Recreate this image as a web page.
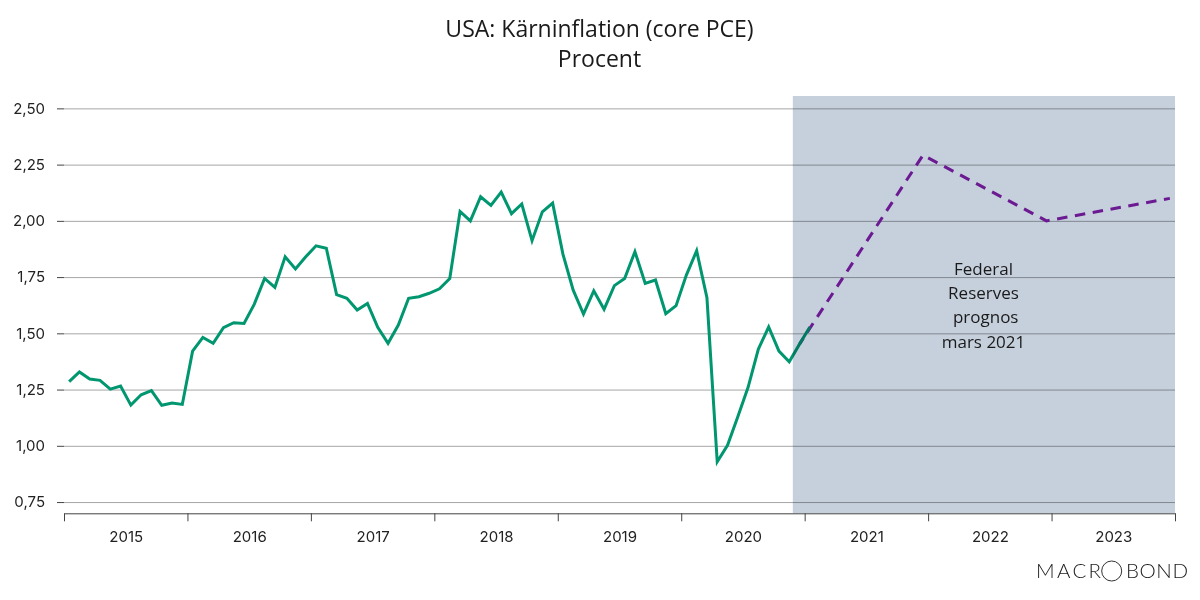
<!DOCTYPE html>
<html>
<head>
<meta charset="utf-8">
<script src="https://cdn.jsdelivr.net/npm/d3@7"></script>
<style>
  html, body { margin: 0; padding: 0; background: #fff; }
  svg { display: block; }
  text { font-family: 'Open Sans', sans-serif; fill: #1a1a1a; }
  .axis text { font-family: Inter, sans-serif; font-size: 15px; fill: #222; }
  .axis line, .axis path { stroke: #444; }
</style>
</head>
<body>
<div id="chart"></div>
<script>
const titleLines = ['USA: Kärninflation (core PCE)', 'Procent']
const noteLines = ['Federal', 'Reserves', ' prognos', 'mars 2021']
const years = [2015, 2016, 2017, 2018, 2019, 2020, 2021, 2022, 2023]
const yTicks = [0.75, 1, 1.25, 1.5, 1.75, 2, 2.25, 2.5]

// monthly values, january 2015 to january 2021
const actual = [
  1.285, 1.328, 1.297, 1.291, 1.252, 1.266, 1.181, 1.227, 1.245, 1.18, 1.19, 1.184,
  1.421, 1.482, 1.456, 1.525, 1.547, 1.544, 1.63, 1.744, 1.704, 1.84, 1.786, 1.84,
  1.889, 1.878, 1.672, 1.656, 1.604, 1.633, 1.527, 1.456, 1.537, 1.656, 1.663, 1.678,
  1.698, 1.744, 2.042, 2.0, 2.107, 2.069, 2.128, 2.032, 2.075, 1.912, 2.04, 2.079,
  1.852, 1.692, 1.586, 1.689, 1.607, 1.712, 1.744, 1.863, 1.722, 1.737, 1.587, 1.623,
  1.759, 1.867, 1.658, 0.929, 1.002, 1.129, 1.26, 1.43, 1.528, 1.421, 1.374, 1.452,
  1.528
]

// fed forecast, month counted from january 2015
const forecastMonths = [71, 83, 95, 107]
const forecastValues = [1.452, 2.292, 2.0, 2.1]
const shadeStart = 70.85

const width = 1200
const height = 600
const margin = { top: 96, right: 25, bottom: 86.7, left: 64 }

const svg = d3
  .select('#chart')
  .append('svg')
  .attr('width', width)
  .attr('height', height)

// x is in months, a point sits in the middle of its month
const xPositionScale = d3
  .scaleLinear()
  .domain([0, 108])
  .range([margin.left, width - margin.right])

const yPositionScale = d3
  .scaleLinear()
  .domain([0.7, 2.555])
  .range([height - margin.bottom, margin.top])

const line = d3
  .line()
  .x(d => xPositionScale(d.month + 0.5))
  .y(d => yPositionScale(d.value))

const comma = d3.formatLocale({ decimal: ',', thousands: ' ', grouping: [3], currency: ['', ''] }).format('.2f')

// gridlines
svg
  .append('g')
  .attr('transform', 'translate(' + margin.left + ',0)')
  .call(
    d3
      .axisLeft(yPositionScale)
      .tickValues(yTicks)
      .tickSize(-(width - margin.left - margin.right))
      .tickFormat('')
  )
  .call(g => g.select('.domain').remove())
  .selectAll('line')
  .attr('stroke', '#a6a6a6')

// forecast goes under the green line
svg
  .append('path')
  .datum(forecastMonths.map((d, i) => ({ month: d, value: forecastValues[i] })))
  .attr('d', line)
  .attr('fill', 'none')
  .attr('stroke', '#8a1fa8')
  .attr('stroke-width', 3)
  .attr('stroke-dasharray', '10.5 7.6')
  .attr('stroke-dashoffset', 3.7)

svg
  .append('path')
  .datum(actual.map((d, i) => ({ month: i, value: d })))
  .attr('d', line)
  .attr('fill', 'none')
  .attr('stroke', '#00966f')
  .attr('stroke-width', 3)
  .attr('stroke-linejoin', 'miter')

// the shade lies over the lines and darkens them
svg
  .append('rect')
  .attr('x', xPositionScale(shadeStart))
  .attr('y', margin.top)
  .attr('width', xPositionScale(108) - xPositionScale(shadeStart))
  .attr('height', height - margin.bottom - margin.top)
  .attr('fill', '#c6d0dd')
  .style('mix-blend-mode', 'multiply')

// y axis
svg
  .append('g')
  .attr('class', 'axis')
  .attr('transform', 'translate(' + margin.left + ',0)')
  .call(
    d3
      .axisLeft(yPositionScale)
      .tickValues(yTicks)
      .tickSize(7)
      .tickPadding(12)
      .tickFormat(comma)
  )
  .call(g => g.select('.domain').remove())

// x axis, ticks on year boundaries
svg
  .append('g')
  .attr('class', 'axis')
  .attr('transform', 'translate(0,' + (height - margin.bottom) + ')')
  .call(
    d3
      .axisBottom(xPositionScale)
      .tickValues(d3.range(0, 109, 12))
      .tickSize(8)
      .tickSizeOuter(0)
      .tickFormat('')
  )

// year labels in the middle of each year
svg
  .append('g')
  .attr('class', 'axis')
  .attr('transform', 'translate(0,' + (height - margin.bottom) + ')')
  .call(
    d3
      .axisBottom(xPositionScale)
      .tickValues(years.map((d, i) => i * 12 + 6))
      .tickSize(0)
      .tickPadding(18)
      .tickFormat((d, i) => years[i])
  )
  .call(g => g.select('.domain').remove())

svg
  .selectAll('.title')
  .data(titleLines)
  .enter()
  .append('text')
  .attr('class', 'title')
  .text(d => d)
  .attr('text-anchor', 'middle')
  .attr('font-size', 23)
  .attr('x', 599.5)
  .attr('y', (d, i) => 37 + i * 30)

svg
  .selectAll('.note')
  .data(noteLines)
  .enter()
  .append('text')
  .attr('class', 'note')
  .text(d => d)
  .attr('xml:space', 'preserve')
  .attr('text-anchor', 'middle')
  .attr('font-size', 17)
  .attr('x', 983.5)
  .attr('y', (d, i) => 275 + i * 24.2)

// logo, the O is a plain circle
const logo = svg.append('g').attr('fill', '#333')

logo
  .append('text')
  .text('MACR')
  .attr('x', 1036)
  .attr('y', 578)
  .attr('font-size', 20.5)
  .attr('textLength', 65)
  .style('font-family', 'Lato')
  .style('font-weight', 300)

logo
  .append('circle')
  .attr('cx', 1111.7)
  .attr('cy', 571)
  .attr('r', 10)
  .attr('fill', 'none')
  .attr('stroke', '#333')
  .attr('stroke-width', 1)

logo
  .append('text')
  .text('BOND')
  .attr('x', 1126)
  .attr('y', 578)
  .attr('font-size', 20.5)
  .attr('textLength', 62)
  .style('font-family', 'Lato')
  .style('font-weight', 300)
</script>
</body>
</html>
